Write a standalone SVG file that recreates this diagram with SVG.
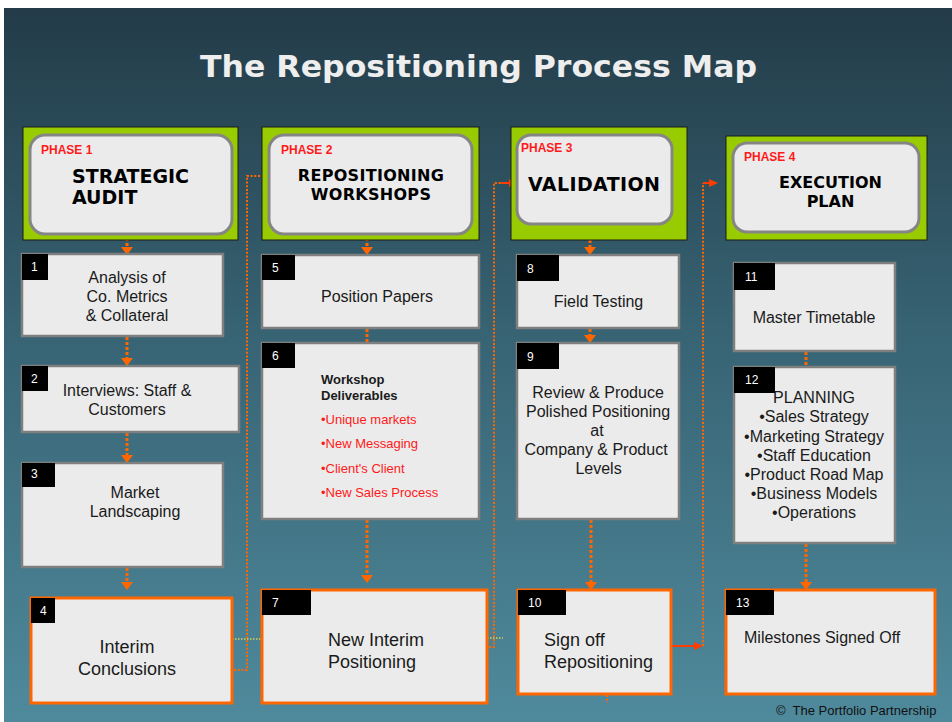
<svg xmlns="http://www.w3.org/2000/svg" width="952" height="722" viewBox="0 0 952 722">
  <defs>
    <linearGradient id="bgGrad" x1="0" y1="0" x2="0" y2="1">
      <stop offset="0" stop-color="#233b48"/>
      <stop offset="0.45" stop-color="#376373"/>
      <stop offset="1" stop-color="#4f8a9c"/>
    </linearGradient>
    <marker id="tri" markerWidth="8" markerHeight="12" refX="0" refY="6" orient="auto" markerUnits="userSpaceOnUse">
      <path d="M0,0 L8,6 L0,12 z" fill="#ff6600"/>
    </marker>
    <marker id="rtri" markerWidth="9" markerHeight="8" refX="0" refY="4" orient="auto" markerUnits="userSpaceOnUse">
      <path d="M0,0 L9,4 L0,8 z" fill="#ff3c00"/>
    </marker>
    <style>
      .phase-outer { fill: #99cc00; stroke: #1a1a1a; stroke-width: 1; }
      .phase-inner { fill: #ebebeb; stroke: #858585; stroke-width: 3; }
      .step { fill: #ebebeb; stroke: #7f7f7f; stroke-width: 2.5; }
      .step-hl { fill: #ebebeb; stroke: #ff6600; stroke-width: 3; }
      .tag { fill: #000; }
      .tagtxt { font-family: "Liberation Sans", Arial, sans-serif; font-size: 12px; fill: #fff; }
      .ph { font-family: "Liberation Sans", Arial, sans-serif; font-weight: bold; font-size: 12px; fill: #ff1a1a; }
      .pt { font-family: "DejaVu Sans", Verdana, sans-serif; font-weight: bold; fill: #000; }
      .t16 { font-family: "Liberation Sans", Arial, sans-serif; font-size: 16px; fill: #1a1a1a; }
      .t18 { font-family: "Liberation Sans", Arial, sans-serif; font-size: 18px; fill: #1a1a1a; }
      .t13b { font-family: "Liberation Sans", Arial, sans-serif; font-size: 13px; font-weight: bold; fill: #1a1a1a; }
      .t13r { font-family: "Liberation Sans", Arial, sans-serif; font-size: 13px; fill: #ff1a1a; }
      .mid { text-anchor: middle; }
      .flow { fill: none; stroke: #ff6600; stroke-width: 3; stroke-dasharray: 3 2; }
      .loop { fill: none; stroke: #ff6600; stroke-width: 2; stroke-dasharray: 2 1.7; }
      .solid { fill: none; stroke: #ff3c00; stroke-width: 2; }
      .faint { fill: none; stroke: #d8cf5a; stroke-width: 1.5; stroke-dasharray: 1.5 1.5; }
    </style>
  </defs>

  <!-- backdrop -->
  <rect x="0" y="0" width="952" height="722" fill="#ffffff"/>
  <rect x="4" y="8" width="948" height="714" fill="url(#bgGrad)"/>

  <text x="478.5" y="77" text-anchor="middle" font-family="'DejaVu Sans', Verdana, sans-serif" font-weight="bold" font-size="31" fill="#eeeeee" textLength="557" lengthAdjust="spacingAndGlyphs">The Repositioning Process Map</text>

  <!-- connectors -->
  <g id="connectors">
    <path class="flow" d="M127,233 V247" marker-end="url(#tri)"/>
    <path class="flow" d="M127,337 V358" marker-end="url(#tri)"/>
    <path class="flow" d="M127,433 V455" marker-end="url(#tri)"/>
    <path class="flow" d="M127,568 V582" marker-end="url(#tri)"/>
    <path class="flow" d="M367,233 V247" marker-end="url(#tri)"/>
    <path class="flow" d="M367,329 V342" marker-end="url(#tri)"/>
    <path class="flow" d="M367,520 V575" marker-end="url(#tri)"/>
    <path class="flow" d="M590,225 V247" marker-end="url(#tri)"/>
    <path class="flow" d="M590,329 V335" marker-end="url(#tri)"/>
    <path class="flow" d="M591,520 V582" marker-end="url(#tri)"/>
    <path class="flow" d="M806,352 V366" marker-end="url(#tri)"/>
    <path class="flow" d="M806,544 V582" marker-end="url(#tri)"/>

    <!-- phase hand-offs -->
    <path class="loop" d="M234,670 H247 V176 H271" marker-end="url(#tri)"/>
    <path class="loop" d="M489,647 H494 V183 H501"/>
    <path class="solid" d="M501,183 H509" marker-end="url(#rtri)"/>
    <path class="solid" d="M672,646 H694" marker-end="url(#rtri)"/>
    <path class="loop" d="M703,646 V183"/>
    <path class="solid" d="M703,183 H709" marker-end="url(#rtri)"/>
    <path class="loop" d="M607,695 V703"/>

    <path class="faint" d="M232,639 H262"/>
    <path class="faint" d="M487,638 H503"/>
  </g>

  <!-- phase headers -->
  <g id="phase1">
    <rect class="phase-outer" x="23" y="127" width="215" height="113"/>
    <rect class="phase-inner" x="30" y="135" width="202" height="99" rx="15"/>
    <text class="ph" x="41" y="154">PHASE 1</text>
    <text class="pt" x="72" y="183" font-size="19">STRATEGIC</text>
    <text class="pt" x="72" y="204" font-size="19">AUDIT</text>
  </g>
  <g id="phase2">
    <rect class="phase-outer" x="262" y="127" width="217" height="113"/>
    <rect class="phase-inner" x="269" y="135" width="203" height="99" rx="15"/>
    <text class="ph" x="281" y="154">PHASE 2</text>
    <text class="pt mid" x="371" y="181" font-size="16" letter-spacing="0.3">REPOSITIONING</text>
    <text class="pt mid" x="371" y="200" font-size="16" letter-spacing="0.3">WORKSHOPS</text>
  </g>
  <g id="phase3">
    <rect class="phase-outer" x="511" y="127" width="176" height="113"/>
    <rect class="phase-inner" x="517" y="135" width="155" height="89" rx="14"/>
    <text class="ph" x="521" y="152">PHASE 3</text>
    <text class="pt" x="528" y="191" font-size="19" letter-spacing="0.4">VALIDATION</text>
  </g>
  <g id="phase4">
    <rect class="phase-outer" x="726" y="136" width="201" height="104"/>
    <rect class="phase-inner" x="733" y="143" width="186" height="89" rx="14"/>
    <text class="ph" x="744" y="161">PHASE 4</text>
    <text class="pt mid" x="830.5" y="188" font-size="16">EXECUTION</text>
    <text class="pt mid" x="830.5" y="207" font-size="16">PLAN</text>
  </g>

  <!-- phase 1 steps -->
  <g id="step1">
    <rect class="step" x="22" y="254" width="201" height="82"/>
    <rect class="tag" x="22" y="254" width="26" height="26"/>
    <text class="tagtxt" x="31" y="271">1</text>
    <text class="t16 mid" x="127" y="283">Analysis of</text>
    <text class="t16 mid" x="127" y="302">Co. Metrics</text>
    <text class="t16 mid" x="127" y="321">&amp; Collateral</text>
  </g>
  <g id="step2">
    <rect class="step" x="22" y="366" width="217" height="66"/>
    <rect class="tag" x="22" y="366" width="26" height="25"/>
    <text class="tagtxt" x="31" y="383">2</text>
    <text class="t16 mid" x="127" y="396">Interviews: Staff &amp;</text>
    <text class="t16 mid" x="127" y="415">Customers</text>
  </g>
  <g id="step3">
    <rect class="step" x="22" y="463" width="201" height="104"/>
    <rect class="tag" x="22" y="463" width="33" height="24"/>
    <text class="tagtxt" x="31" y="478">3</text>
    <text class="t16 mid" x="135" y="498">Market</text>
    <text class="t16 mid" x="135" y="517">Landscaping</text>
  </g>
  <g id="step4">
    <rect class="step-hl" x="31" y="598" width="201" height="105"/>
    <rect class="tag" x="31" y="598" width="24" height="25"/>
    <text class="tagtxt" x="40" y="615">4</text>
    <text class="t18 mid" x="127" y="653">Interim</text>
    <text class="t18 mid" x="127" y="675">Conclusions</text>
  </g>

  <!-- phase 2 steps -->
  <g id="step5">
    <rect class="step" x="262" y="255" width="217" height="73"/>
    <rect class="tag" x="262" y="255" width="33" height="25"/>
    <text class="tagtxt" x="272" y="272">5</text>
    <text class="t16 mid" x="377" y="302">Position Papers</text>
  </g>
  <g id="step6">
    <rect class="step" x="262" y="343" width="217" height="176"/>
    <rect class="tag" x="262" y="343" width="33" height="25"/>
    <text class="tagtxt" x="272" y="360">6</text>
    <text class="t13b" x="321" y="384">Workshop</text>
    <text class="t13b" x="321" y="400">Deliverables</text>
    <text class="t13r" x="321" y="424">&#8226;Unique markets</text>
    <text class="t13r" x="321" y="448">&#8226;New Messaging</text>
    <text class="t13r" x="321" y="473">&#8226;Client's Client</text>
    <text class="t13r" x="321" y="497">&#8226;New Sales Process</text>
  </g>
  <g id="step7">
    <rect class="step-hl" x="262" y="590" width="225" height="113"/>
    <rect class="tag" x="262" y="590" width="49" height="25"/>
    <text class="tagtxt" x="272" y="607">7</text>
    <text class="t18" x="328" y="646">New Interim</text>
    <text class="t18" x="328" y="668">Positioning</text>
  </g>

  <!-- phase 3 steps -->
  <g id="step8">
    <rect class="step" x="517" y="255" width="162" height="73"/>
    <rect class="tag" x="517" y="255" width="42" height="26"/>
    <text class="tagtxt" x="527" y="273">8</text>
    <text class="t16 mid" x="598.5" y="307">Field Testing</text>
  </g>
  <g id="step9">
    <rect class="step" x="517" y="343" width="162" height="176"/>
    <rect class="tag" x="517" y="343" width="42" height="26"/>
    <text class="tagtxt" x="527" y="361">9</text>
    <text class="t16 mid" x="598" y="398">Review &amp; Produce</text>
    <text class="t16 mid" x="598" y="417">Polished Positioning</text>
    <text class="t16 mid" x="597" y="436">at</text>
    <text class="t16 mid" x="596" y="455">Company &amp; Product</text>
    <text class="t16 mid" x="598.5" y="474">Levels</text>
  </g>
  <g id="step10">
    <rect class="step-hl" x="518" y="590" width="153" height="104"/>
    <rect class="tag" x="518" y="590" width="48" height="25"/>
    <text class="tagtxt" x="528" y="607">10</text>
    <text class="t18" x="544" y="646">Sign off</text>
    <text class="t18" x="544" y="668">Repositioning</text>
  </g>

  <!-- phase 4 steps -->
  <g id="step11">
    <rect class="step" x="734" y="263" width="161" height="88"/>
    <rect class="tag" x="734" y="263" width="41" height="27"/>
    <text class="tagtxt" x="745" y="281">11</text>
    <text class="t16 mid" x="814" y="323">Master Timetable</text>
  </g>
  <g id="step12">
    <rect class="step" x="734" y="367" width="161" height="176"/>
    <rect class="tag" x="734" y="367" width="41" height="26"/>
    <text class="tagtxt" x="745" y="384">12</text>
    <text class="t16 mid" x="814" y="403">PLANNING</text>
    <text class="t16 mid" x="814" y="422">&#8226;Sales Strategy</text>
    <text class="t16 mid" x="814" y="441.5">&#8226;Marketing Strategy</text>
    <text class="t16 mid" x="814" y="460.5">&#8226;Staff Education</text>
    <text class="t16 mid" x="814" y="479.5">&#8226;Product Road Map</text>
    <text class="t16 mid" x="814" y="498.5">&#8226;Business Models</text>
    <text class="t16 mid" x="814" y="517.5">&#8226;Operations</text>
  </g>
  <g id="step13">
    <rect class="step-hl" x="726" y="590" width="209" height="104"/>
    <rect class="tag" x="726" y="590" width="48" height="25"/>
    <text class="tagtxt" x="736" y="607">13</text>
    <text class="t16" x="744" y="643">Milestones Signed Off</text>
  </g>

  <text x="776" y="715" font-family="'Liberation Sans', Arial, sans-serif" font-size="13" fill="#111">&#169;&#160; The Portfolio Partnership</text>
</svg>
